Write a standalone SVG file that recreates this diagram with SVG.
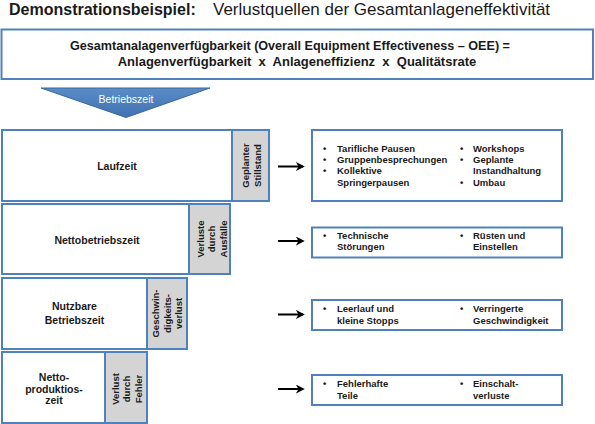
<svg xmlns="http://www.w3.org/2000/svg" width="595" height="424" viewBox="0 0 595 424">
<defs>
<style>
text{font-family:"Liberation Sans",Arial,sans-serif;fill:#1a1a1a}
.b{font-weight:bold}
.box{fill:#fff;stroke:#4F81BD;stroke-width:2}
.grey{fill:#D4D4D4;stroke:#4F81BD;stroke-width:2}
.t{font-size:9.5px;font-weight:bold}
.l{font-size:10.5px;font-weight:bold;text-anchor:middle}
.v{font-size:9.5px;font-weight:bold;text-anchor:middle}
.c{text-anchor:middle}
.arr{stroke:#000;stroke-width:2;fill:none}
</style>
<marker id="ah" viewBox="0 0 10 10" refX="8" refY="5" markerWidth="4.5" markerHeight="4.5" orient="auto" markerUnits="strokeWidth">
<path d="M0,0 L10,5 L0,10 L3,5 Z" fill="#000"/>
</marker>
<linearGradient id="tg" x1="0" y1="0" x2="0" y2="1">
<stop offset="0" stop-color="#5A8CC8"/>
<stop offset="1" stop-color="#3F72B0"/>
</linearGradient>
</defs>
<rect width="595" height="424" fill="#fff"/>
<g id="title">
<text class="b" x="9" y="15" font-size="16">Demonstrationsbeispiel:</text>
<text x="213" y="15" font-size="17">Verlustquellen der Gesamtanlageneffektivität</text>
</g>
<g id="oee">
<rect class="box" x="1.5" y="29.5" width="591.5" height="49.5"/>
<text class="b c" x="290" y="50" font-size="12.6">Gesamtanalagenverfügbarkeit (Overall Equipment Effectiveness – OEE) =</text>
<text class="b c" x="297" y="66" font-size="13" style="white-space:pre" xml:space="preserve">Anlagenverfügbarkeit  x  Anlageneffizienz  x  Qualitätsrate</text>
</g>
<g id="betriebszeit">
<polygon points="41,88 210,88 126,117.5" fill="url(#tg)" stroke="#3A6699" stroke-width="1"/>
<text class="c" x="126" y="103" font-size="10.5" style="fill:#fff">Betriebszeit</text>
</g>
<g id="row1">
<rect class="box" x="2" y="130" width="230" height="71"/>
<text class="l" x="117" y="170">Laufzeit</text>
<rect class="grey" x="232" y="130" width="37" height="71"/>
<text class="v" transform="translate(0,165.5) rotate(-90)"><tspan x="0" y="249">Geplanter</tspan><tspan x="0" y="260.5">Stillstand</tspan></text>
</g>
<g id="row2">
<rect class="box" x="2" y="204" width="187" height="70"/>
<text class="l" x="97" y="243.5">Nettobetriebszeit</text>
<rect class="grey" x="189" y="204" width="41" height="70"/>
<text class="v" transform="translate(0,239) rotate(-90)"><tspan x="0" y="203.5">Verluste</tspan><tspan x="0" y="215">durch</tspan><tspan x="0" y="226.5">Ausfälle</tspan></text>
</g>
<g id="row3">
<rect class="box" x="2" y="278" width="145" height="71"/>
<text class="l" x="74.5" y="309.5">Nutzbare</text>
<text class="l" x="74.5" y="324">Betriebszeit</text>
<rect class="grey" x="147" y="278" width="40" height="71"/>
<text class="v" transform="translate(0,313.5) rotate(-90)"><tspan x="0" y="159">Geschwin-</tspan><tspan x="0" y="170.5">digkeits-</tspan><tspan x="0" y="182">verlust</tspan></text>
</g>
<g id="row4">
<rect class="box" x="2" y="352" width="103" height="71"/>
<text class="l" x="54" y="380.5">Netto-</text>
<text class="l" x="54" y="392.5">produktios-</text>
<text class="l" x="54" y="404">zeit</text>
<rect class="grey" x="105" y="352" width="42" height="71"/>
<text class="v" transform="translate(0,389) rotate(-90)"><tspan x="0" y="118.5">Verlust</tspan><tspan x="0" y="130">durch</tspan><tspan x="0" y="141.5">Fehler</tspan></text>
</g>
<g id="connectors">
<line class="arr" x1="278" y1="166.5" x2="303" y2="166.5" marker-end="url(#ah)"/>
<line class="arr" x1="278" y1="241" x2="303" y2="241" marker-end="url(#ah)"/>
<line class="arr" x1="278" y1="314.5" x2="303" y2="314.5" marker-end="url(#ah)"/>
<line class="arr" x1="278" y1="389" x2="303" y2="389" marker-end="url(#ah)"/>
</g>
<g id="list1">
<rect class="box" x="312" y="130" width="250" height="71"/>
<text class="t" x="323" y="152">•</text><text class="t" x="337" y="152">Tarifliche Pausen</text>
<text class="t" x="323" y="163.2">•</text><text class="t" x="337" y="163.2">Gruppenbesprechungen</text>
<text class="t" x="323" y="174.4">•</text><text class="t" x="337" y="174.4">Kollektive</text>
<text class="t" x="337" y="185.6">Springerpausen</text>
<text class="t" x="460" y="152">•</text><text class="t" x="473" y="152">Workshops</text>
<text class="t" x="460" y="163.2">•</text><text class="t" x="473" y="163.2">Geplante</text>
<text class="t" x="473" y="174.4">Instandhaltung</text>
<text class="t" x="460" y="185.6">•</text><text class="t" x="473" y="185.6">Umbau</text>
</g>
<g id="list2">
<rect class="box" x="312" y="227.5" width="250" height="30"/>
<text class="t" x="323" y="238.5">•</text><text class="t" x="337" y="238.5">Technische</text>
<text class="t" x="337" y="249.7">Störungen</text>
<text class="t" x="460" y="238.5">•</text><text class="t" x="473" y="238.5">Rüsten und</text>
<text class="t" x="473" y="249.7">Einstellen</text>
</g>
<g id="list3">
<rect class="box" x="312" y="300" width="250" height="30"/>
<text class="t" x="323" y="312.3">•</text><text class="t" x="337" y="312.3">Leerlauf und</text>
<text class="t" x="337" y="323.5">kleine Stopps</text>
<text class="t" x="460" y="312.3">•</text><text class="t" x="473" y="312.3">Verringerte</text>
<text class="t" x="473" y="323.5">Geschwindigkeit</text>
</g>
<g id="list4">
<rect class="box" x="312" y="375" width="250" height="30"/>
<text class="t" x="323" y="387.3">•</text><text class="t" x="337" y="387.3">Fehlerhafte</text>
<text class="t" x="337" y="398.5">Teile</text>
<text class="t" x="460" y="387.3">•</text><text class="t" x="473" y="387.3">Einschalt-</text>
<text class="t" x="473" y="398.5">verluste</text>
</g>
</svg>
